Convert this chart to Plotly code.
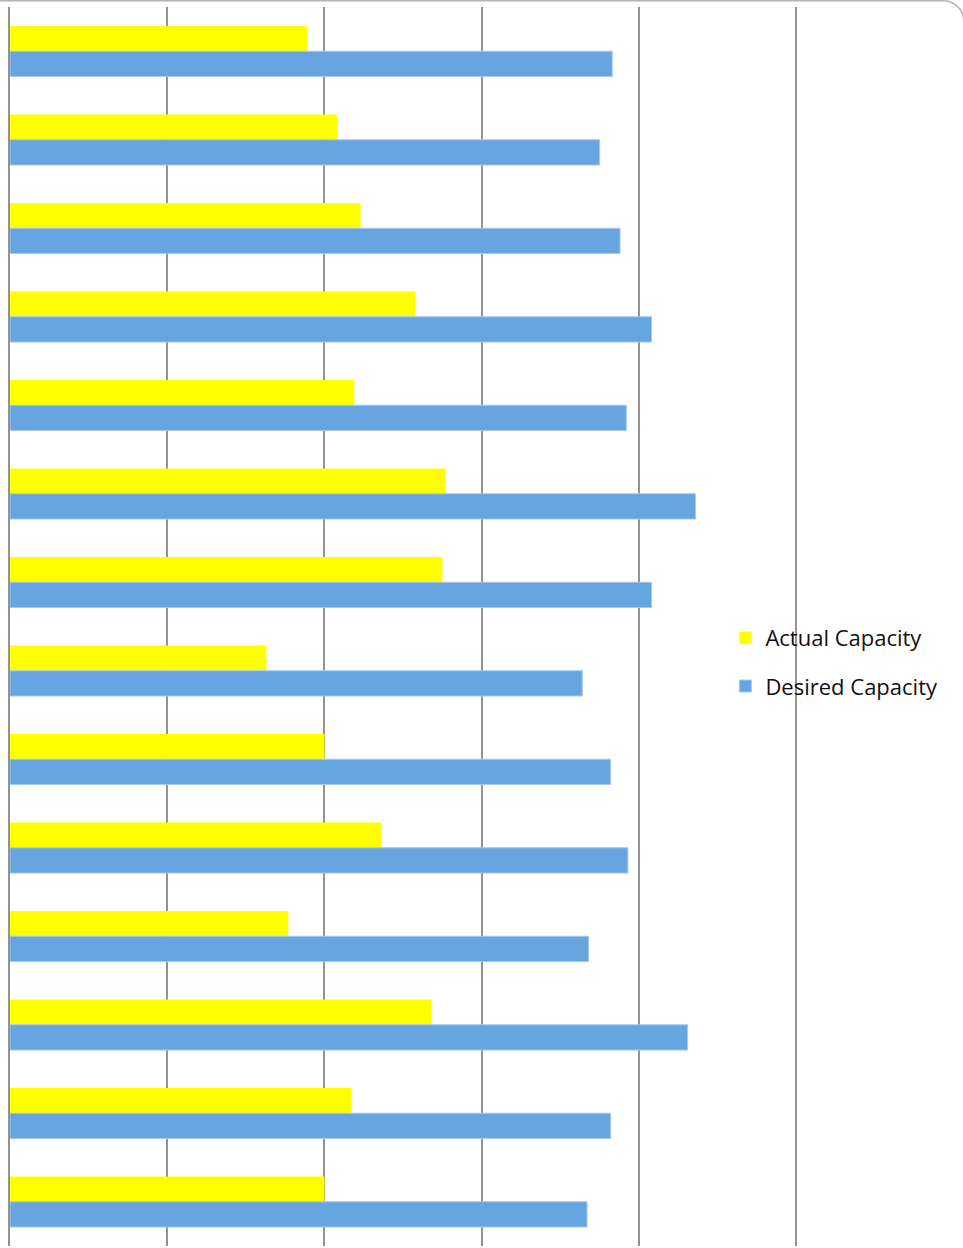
import plotly.graph_objects as go

# Rows of the chart, top to bottom
categories = ["Item 1", "Item 2", "Item 3", "Item 4", "Item 5", "Item 6", "Item 7",
              "Item 8", "Item 9", "Item 10", "Item 11", "Item 12", "Item 13", "Item 14"]

actual_capacity = [1.89, 2.08, 2.23, 2.58, 2.19, 2.77, 2.75,
                   1.63, 2.00, 2.36, 1.77, 2.68, 2.17, 2.00]
desired_capacity = [3.83, 3.75, 3.88, 4.08, 3.92, 4.36, 4.08,
                    3.64, 3.82, 3.93, 3.68, 4.31, 3.82, 3.67]

series_names = ["Actual Capacity", "Desired Capacity"]

W, H = 963, 1248
M_L, M_R, M_T, M_B = 10, 159, 7, 2
PW, PH = W - M_L - M_R, H - M_T - M_B

fig = go.Figure()
fig.add_trace(go.Bar(
    y=categories, x=actual_capacity, orientation="h", name=series_names[0],
    legendgroup="a",
    marker=dict(color="#FFFF00", line=dict(width=0)),
))
fig.add_trace(go.Bar(
    y=categories, x=desired_capacity, orientation="h", name=series_names[1],
    legendgroup="b",
    marker=dict(color="#66A5E0", line=dict(color="#A7C8EE", width=1)),
))


def px_to_paper(px, py):
    return (px - M_L) / PW, 1 - (py - M_T) / PH


# rounded frame edge along the top of the chart area
pts = [(-20, 0.7), (943, 0.7), (954.8, 0.7), (963.8, 9.8), (963.8, 21.5), (963.8, 1400)]
p = [px_to_paper(*q) for q in pts]
path = (f"M{p[0][0]},{p[0][1]} L{p[1][0]},{p[1][1]} "
        f"C{p[2][0]},{p[2][1]} {p[3][0]},{p[3][1]} {p[4][0]},{p[4][1]} "
        f"L{p[5][0]},{p[5][1]}")
fig.add_shape(type="path", xref="paper", yref="paper", path=path,
              line=dict(color="#B4B4B4", width=1.5))

fig.update_layout(
    width=W, height=H,
    margin=dict(l=M_L, r=M_R, t=M_T, b=M_B, pad=0),
    paper_bgcolor="white", plot_bgcolor="white",
    barmode="group", bargap=0.428, bargroupgap=0,
    showlegend=True,
    legend=dict(
        x=0.901, xanchor="left", y=0.508, yanchor="top",
        font=dict(family="Open Sans", size=22, color="#111111"),
        bgcolor="rgba(0,0,0,0)", tracegroupgap=17, traceorder="grouped",
    ),
    xaxis=dict(
        range=[0, 5.05], dtick=1, showgrid=True, gridcolor="#939393", gridwidth=2,
        zeroline=False, showticklabels=False, ticks="", showline=False,
    ),
    yaxis=dict(
        autorange="reversed", showgrid=False, zeroline=False, showticklabels=False,
        ticks="", showline=True, linecolor="#939393", linewidth=2,
    ),
)

fig.write_html("out.html")
